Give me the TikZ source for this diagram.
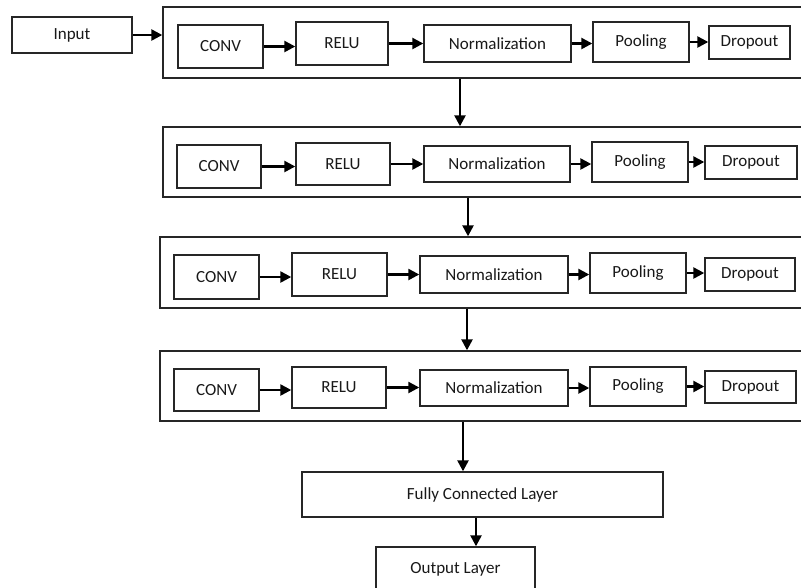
\documentclass[tikz,border=0pt]{standalone}
\usepackage{fontspec}
\setmainfont{Carlito}
\usetikzlibrary{arrows.meta}

% Rectangle given by its corners: name, x1, y1, x2, y2 (y downward), text
\newcommand{\cnnbox}[7][]{%
  \node[box,#1,minimum width={(#5-#3)*1pt},minimum height={(#6-#4)*1pt}]
    (#2) at ({(#3+#5)/2},{-(#4+#6)/2}) {#7};}

\begin{document}
\begin{tikzpicture}[x=1pt,y=1pt,
  box/.style={draw=black!85,line width=1.4pt,inner sep=0pt,
    font=\fontsize{17}{19}\selectfont,text=black!90},
  arr/.style={draw=black,line width=2.4pt,
    -{Triangle[length=11pt,width=11pt]}}]
\useasboundingbox (0,0) rectangle (801,-587);
\fill[white] (0,0) rectangle (801,-587);

% input
\cnnbox{inp}{12}{17}{132}{53}{Input}

% four convolution stages
\cnnbox{o1}{163}{7}{804}{78}{}
\cnnbox{c1}{178}{25}{263}{68}{CONV}
\cnnbox{r1}{296}{22}{388}{65}{RELU}
\cnnbox{n1}{424}{25}{571}{62}{Normalization}
\cnnbox{p1}{593}{22}{689}{62}{Pooling}
\cnnbox{d1}{709}{26}{790}{59}{Dropout}

\cnnbox{o2}{163}{127}{804}{197}{}
\cnnbox{c2}{177}{145}{261}{188}{CONV}
\cnnbox{r2}{296}{143}{390}{185}{RELU}
\cnnbox{n2}{424}{146}{570}{182}{Normalization}
\cnnbox{p2}{592}{142}{688}{182}{Pooling}
\cnnbox{d2}{705}{146}{797}{179}{Dropout}

\cnnbox{o3}{160}{237}{804}{308}{}
\cnnbox{c3}{174}{255}{259}{299}{CONV}
\cnnbox{r3}{292}{253}{387}{296}{RELU}
\cnnbox{n3}{420}{256}{568}{293}{Normalization}
\cnnbox{p3}{590}{253}{686}{293}{Pooling}
\cnnbox{d3}{705}{258}{795}{291}{Dropout}

\cnnbox{o4}{160}{351}{804}{421}{}
\cnnbox{c4}{174}{369}{259}{411}{CONV}
\cnnbox{r4}{292}{367}{386}{408}{RELU}
\cnnbox{n4}{420}{370}{568}{406}{Normalization}
\cnnbox{p4}{590}{367}{686}{406}{Pooling}
\cnnbox{d4}{705}{371}{796}{403}{Dropout}

% classifier
\cnnbox{fc}{302}{472}{663}{517}{Fully Connected Layer}
\cnnbox{out}{376}{547}{535}{592}{Output Layer}

% connectors
\draw[arr] (inp.east) -- (inp.east -| o1.west);
\foreach \i in {1,2,3,4}{
  \draw[arr] (c\i.east) -- (c\i.east -| r\i.west);
  \draw[arr] (r\i.east) -- (r\i.east -| n\i.west);
  \draw[arr] (n\i.east) -- (n\i.east -| p\i.west);
  \draw[arr] (p\i.east) -- (p\i.east -| d\i.west);
}
\coordinate (x1) at (460,0);
\coordinate (x2) at (468,0);
\coordinate (x3) at (467,0);
\coordinate (x4) at (463,0);
\coordinate (x5) at (476,0);
\draw[arr] (o1.south -| x1) -- (o2.north -| x1);
\draw[arr] (o2.south -| x2) -- (o3.north -| x2);
\draw[arr] (o3.south -| x3) -- (o4.north -| x3);
\draw[arr] (o4.south -| x4) -- (fc.north -| x4);
\draw[arr] (fc.south -| x5) -- (out.north -| x5);
\end{tikzpicture}
\end{document}
